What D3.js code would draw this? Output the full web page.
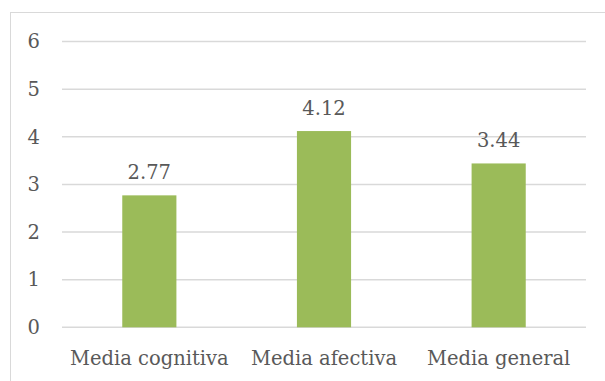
<!DOCTYPE html>
<html>
<head>
<meta charset="utf-8">
<script src="https://cdn.jsdelivr.net/npm/d3@7"></script>
<style>
  html, body { margin: 0; padding: 0; background: #fff; }
  svg { display: block; }
  text { font-family: "DejaVu Serif", serif; fill: #595959; }
</style>
</head>
<body>
<div id="chart"></div>
<script>
// Mean scores per dimension
const categories = ["Media cognitiva", "Media afectiva", "Media general"];
const values = [2.77, 4.12, 3.44];
const yTicks = [0, 1, 2, 3, 4, 5, 6];

const W = 605, H = 381;
const margin = { left: 62, right: 19, top: 41.5, bottom: 53.7 };
const fontSize = "19.5px";

const svg = d3.select("#chart").append("svg")
  .attr("width", W).attr("height", H);

// chart frame (extends past the right and bottom edges)
svg.append("rect")
  .attr("x", 10.5).attr("y", 12.5)
  .attr("width", 620).attr("height", 400)
  .attr("fill", "#fff").attr("stroke", "#d9d9d9").attr("stroke-width", 1);

const x = d3.scaleBand()
  .domain(categories)
  .range([margin.left, W - margin.right])
  .padding(0);

const y = d3.scaleLinear()
  .domain([0, 6])
  .range([H - margin.bottom, margin.top]);

// gridlines
svg.append("g")
  .selectAll("line")
  .data(yTicks)
  .join("line")
  .attr("x1", margin.left).attr("x2", W - margin.right)
  .attr("y1", d => y(d)).attr("y2", d => y(d))
  .attr("stroke", "#d9d9d9").attr("stroke-width", 1.5);

// y axis labels
const yAxis = d3.axisLeft(y).tickValues(yTicks).tickSize(0).tickPadding(22)
  .tickFormat(d3.format("d"));
svg.append("g")
  .attr("transform", `translate(${margin.left},0)`)
  .call(yAxis)
  .call(g => g.select(".domain").remove())
  .call(g => g.selectAll("text")
    .attr("fill", "#595959")
    .style("font-family", "DejaVu Serif, serif")
    .style("font-size", fontSize));

// bars
const barFrac = 0.31;
const bw = x.bandwidth() * barFrac;
svg.append("g")
  .selectAll("rect")
  .data(values)
  .join("rect")
  .attr("x", (d, i) => x(categories[i]) + (x.bandwidth() - bw) / 2)
  .attr("y", d => y(d))
  .attr("width", bw)
  .attr("height", d => y(0) - y(d))
  .attr("fill", "#9bbb59");

// value labels
svg.append("g")
  .selectAll("text")
  .data(values)
  .join("text")
  .attr("x", (d, i) => x(categories[i]) + x.bandwidth() / 2)
  .attr("y", d => y(d) - 16)
  .attr("text-anchor", "middle")
  .style("font-size", fontSize)
  .text(d => d3.format(".2f")(d));

// x axis labels
const xAxis = d3.axisBottom(x).tickSize(0).tickPadding(24);
svg.append("g")
  .attr("transform", `translate(0,${y(0)})`)
  .call(xAxis)
  .call(g => g.select(".domain").remove())
  .call(g => g.selectAll("text")
    .attr("fill", "#595959")
    .style("font-family", "DejaVu Serif, serif")
    .style("font-size", fontSize));
</script>
</body>
</html>
